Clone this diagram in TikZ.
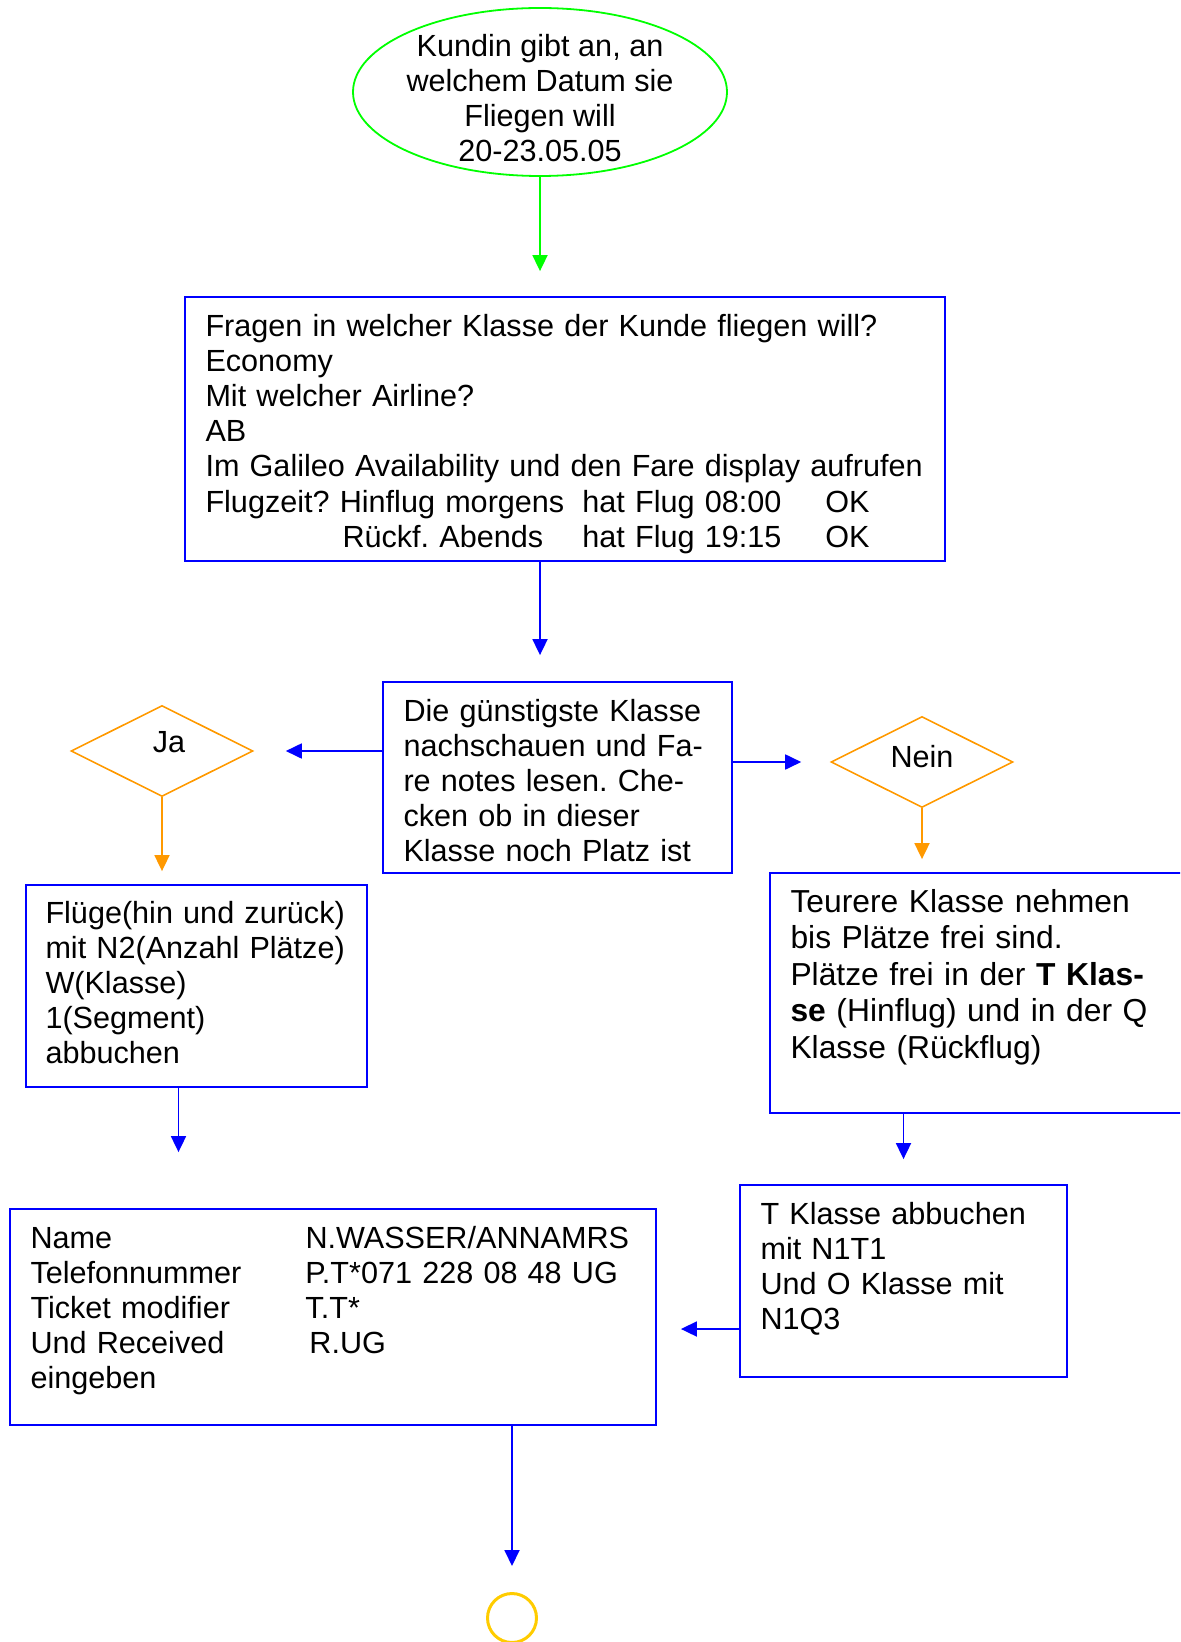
\documentclass[tikz,border=0pt]{standalone}
\usepackage{fontspec}
\setmainfont{Liberation Sans}
\frenchspacing
\usetikzlibrary{shapes.geometric,arrows.meta}
\definecolor{flowblue}{RGB}{0,0,255}
\definecolor{flowgreen}{RGB}{0,255,0}
\definecolor{floworange}{RGB}{255,153,0}
\definecolor{flowyellow}{RGB}{255,204,0}

\tikzset{
  every node/.style={font=\fontsize{15.3}{17.6}\selectfont},
  schritt/.style={draw=flowblue,line width=0.9pt,rectangle,inner sep=0pt},
  frage/.style={draw=floworange,line width=0.8pt,diamond,inner sep=0pt,minimum width=91pt,minimum height=45.5pt},
  inhalt/.style={anchor=base west,inner sep=0pt,align=left,text width=#1},
  pfeil/.style={-{Triangle[width=7.5pt,length=8pt]},line width=0.9pt,draw=flowblue},
}

\begin{document}
\begin{tikzpicture}[x=0.5pt,y=-0.5pt]
\clip (0,0) rectangle (1180,1642);
% Start
\node[ellipse,draw=flowgreen,line width=0.9pt,minimum width=187pt,minimum height=84pt,inner sep=0pt,
  label={[align=center,yshift=-3pt]center:Kundin gibt an, an\\welchem Datum sie\\Fliegen will\\20-23.05.05}] (start) at (540,92) {};
% Klasse und Airline erfragen
\node[schritt,minimum width=380pt,minimum height=132pt] (klasse) at (565,429) {};
\node[inhalt=370pt] (klasse-t) at ([xshift=10.5pt,yshift=-20pt]klasse.north west) {Fragen in welcher Klasse der Kunde fliegen will?\\Economy\\Mit welcher Airline?\\AB\\Im Galileo Availability und den Fare display aufrufen\\\makebox[188.5pt][l]{Flugzeit? Hinflug morgens}\makebox[121.5pt][l]{hat Flug 08:00}OK\\\hspace*{68.5pt}\makebox[120pt][l]{Rückf. Abends}\makebox[121.5pt][l]{hat Flug 19:15}OK};
% Fare notes
\node[schritt,minimum width=174.5pt,minimum height=95.5pt] (fare) at (557.5,777.5) {};
\node[inhalt=165pt] (fare-t) at ([xshift=10.5pt,yshift=-20pt]fare.north west) {Die günstigste Klasse\\nachschauen und Fa-\\re notes lesen. Che-\\cken ob in dieser\\Klasse noch Platz ist};
% Entscheidungen
\node[frage,label={[xshift=3.5pt,yshift=4.5pt]center:Ja}] (ja) at (162,751) {};
\node[frage,label={[yshift=2.5pt]center:Nein}] (nein) at (922,762) {};
% Ja-Zweig
\node[schritt,minimum width=170.5pt,minimum height=101pt] (buchen) at (196.5,986) {};
\node[inhalt=165pt] (buchen-t) at ([xshift=10pt,yshift=-19.5pt]buchen.north west) {Flüge(hin und zurück)\\mit N2(Anzahl Plätze)\\W(Klasse)\\1(Segment)\\abbuchen};
% Nein-Zweig
\node[schritt,minimum width=210pt,minimum height=120pt] (teurer) at (980,993) {};
\node[inhalt=200pt,font=\fontsize{15.9}{18.3}\selectfont] (teurer-t) at ([xshift=10.5pt,yshift=-20pt]teurer.north west) {Teurere Klasse nehmen\\bis Plätze frei sind.\\Plätze frei in der \textbf{T Klas-}\\\textbf{se} (Hinflug) und in der Q\\Klasse (Rückflug)};
\node[schritt,minimum width=163.5pt,minimum height=96pt] (tklasse) at (903.5,1281) {};
\node[inhalt=150pt] (tklasse-t) at ([xshift=10.5pt,yshift=-20pt]tklasse.north west) {T Klasse abbuchen\\mit N1T1\\Und O Klasse mit\\N1Q3};
% Eingabe
\node[schritt,minimum width=323pt,minimum height=108pt] (eingabe) at (333,1317) {};
\node[inhalt=310pt] (eingabe-t) at ([xshift=10.5pt,yshift=-20pt]eingabe.north west) {\makebox[137.5pt][l]{Name}N.WASSER/ANNAMRS\\\makebox[137.5pt][l]{Telefonnummer}P.T*071 228 08 48 UG\\\makebox[137.5pt][l]{Ticket modifier}T.T*\\\makebox[137.5pt][l]{Und Received}\hspace{2pt}R.UG\\eingeben};
% Ende
\node[circle,draw=flowyellow,line width=1.5pt,minimum size=24.5pt,inner sep=0pt] (ende) at (512,1618) {};

% Pfeile
\draw[pfeil,draw=flowgreen,shorten >=12.5pt] (start.south) -- (start.south |- klasse.north);
\draw[pfeil,shorten >=13pt] (start.south |- klasse.south) -- (start.south |- fare.north);
\draw[pfeil,shorten >=16pt] (fare.west |- ja.east) -- (ja.east);
\draw[pfeil,shorten >=14.5pt] (fare.east |- nein.west) -- (nein.west);
\draw[pfeil,draw=floworange,shorten >=6.5pt] (ja.south) -- (ja.south |- buchen.north);
\draw[pfeil,draw=floworange,shorten >=6.5pt] (nein.south) -- (nein.south |- teurer.north);
\draw[pfeil,shorten >=28pt] ([xshift=-9pt]buchen.south) -- ([xshift=-9pt]buchen.south |- eingabe.north);
\draw[pfeil,shorten >=12.5pt] (tklasse.north |- teurer.south) -- (tklasse.north);
\draw[pfeil,shorten >=12pt] ([yshift=-24pt]tklasse.west) -- ([yshift=-24pt]tklasse.west -| eingabe.east);
\draw[pfeil,shorten >=13pt] (ende.north |- eingabe.south) -- (ende.north);
\end{tikzpicture}
\end{document}
